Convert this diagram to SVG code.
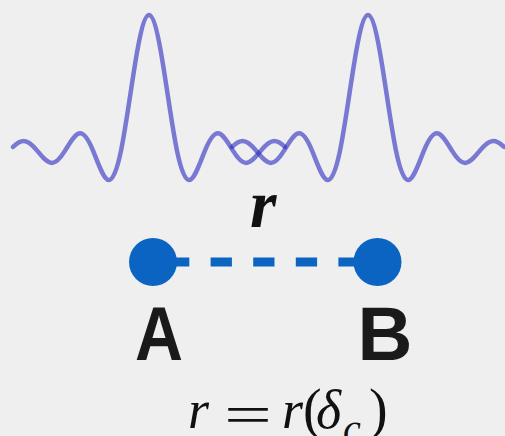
<svg xmlns="http://www.w3.org/2000/svg" xmlns:xlink="http://www.w3.org/1999/xlink" width="505" height="436" viewBox="0 0 505 436">
<defs>
<style>
.wave{fill:none;stroke:#2a2abf;stroke-opacity:0.6;stroke-width:4.5;stroke-linecap:round;stroke-linejoin:round}
.pt{fill:#0b64c1}
.lbl{font-family:"Liberation Sans",Arial,sans-serif;font-weight:bold;font-size:76px;fill:#1a1a1a}
.m{font-family:"Liberation Serif","Times New Roman",serif;fill:#111}
.it{font-style:italic}
</style>
<path id="sinc" d="M -136,146.85 C -132.42,143.51 -128.83,140.99 -125.25,140.99 C -120.8,140.99 -116.35,145.21 -111.90,150.6 C -106.97,156.58 -102.03,162.98 -97.10,162.98 C -92.71,162.98 -88.32,157.69 -83.93,150.6 C -78.88,142.44 -73.84,133.19 -68.79,133.19 C -64.51,133.19 -60.23,140.23 -55.95,150.6 C -50.64,163.48 -45.32,180.05 -40.01,180.05 C -36.0,180.05 -31.98,170.06 -27.97,150.6 C -23.31,128.01 -18.65,93.04 -13.99,64.27 C -9.327,35.48 -4.663,15 0,15 C 4.663,15 9.327,35.48 13.99,64.27 C 18.65,93.04 23.31,128.01 27.97,150.6 C 31.98,170.06 36.0,180.05 40.01,180.05 C 45.32,180.05 50.64,163.48 55.95,150.6 C 60.23,140.23 64.51,133.19 68.79,133.19 C 73.84,133.19 78.88,142.44 83.93,150.6 C 88.32,157.69 92.71,162.98 97.10,162.98 C 102.03,162.98 106.97,156.58 111.90,150.6 C 116.35,145.21 120.8,140.99 125.25,140.99 C 128.83,140.99 132.42,143.51 136,146.85"/>
</defs>
<rect width="505" height="436" fill="#efefef"/>
<g id="waves">
<use xlink:href="#sinc" href="#sinc" class="wave" transform="translate(149,0)"/>
<use xlink:href="#sinc" href="#sinc" class="wave" transform="translate(368,0)"/>
</g>
<g id="connectors">
<line x1="168" y1="262" x2="359" y2="262" stroke="#0b64c1" stroke-width="9" stroke-dasharray="21.3 21.3"/>
</g>
<g id="nodeA">
<circle class="pt" cx="153" cy="262" r="24"/>
<text class="lbl" x="135" y="360" textLength="48" lengthAdjust="spacingAndGlyphs">A</text>
</g>
<g id="nodeB">
<circle class="pt" cx="377.5" cy="262" r="24"/>
<text class="lbl" x="357.5" y="360">B</text>
</g>
<g id="labels">
<text class="m it" x="250" y="227" font-size="68" font-weight="bold">r</text>
<text class="m it" x="188" y="428" font-size="54">r</text>
<text class="m" x="224" y="433" font-size="54" textLength="48" lengthAdjust="spacingAndGlyphs">=</text>
<text class="m it" x="282" y="428" font-size="54">r</text>
<text class="m" x="303" y="428" font-size="56">(</text>
<text class="m it" x="316" y="428" font-size="54">δ</text>
<text class="m it" x="343" y="442" font-size="40">c</text>
<text class="m" x="369" y="428" font-size="56">)</text>
</g>
</svg>
